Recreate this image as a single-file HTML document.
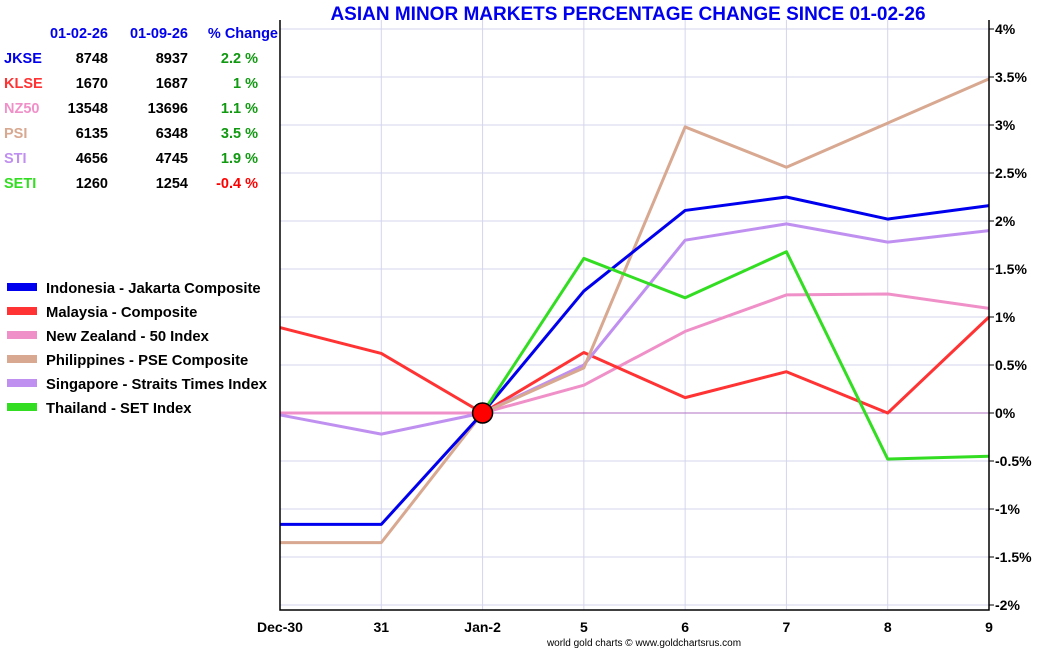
<!DOCTYPE html>
<html><head><meta charset="utf-8"><style>
body{margin:0;background:#fff;font-family:"Liberation Sans",sans-serif;}
svg text{font-family:"Liberation Sans",sans-serif;font-weight:bold;}
</style></head><body>
<svg id="c" width="1050" height="650" xmlns="http://www.w3.org/2000/svg">
<text x="628" y="20" text-anchor="middle" font-size="19" fill="#0000ee">ASIAN MINOR MARKETS PERCENTAGE CHANGE SINCE 01-02-26</text>
<g id="grid"></g>
<g id="series"></g>
<g id="axes"></g>
<g id="table"></g>
<g id="legend"></g>
<text x="644" y="646" text-anchor="middle" font-size="10" style="font-weight:normal" fill="#000">world gold charts © www.goldchartsrus.com</text>
</svg>
<script>
const categories=["Dec-30","31","Jan-2","5","6","7","8","9"];
const yTicks=[-2,-1.5,-1,-0.5,0,0.5,1,1.5,2,2.5,3,3.5,4];
const seriesNames=["Indonesia - Jakarta Composite","Malaysia - Composite","New Zealand - 50 Index","Philippines - PSE Composite","Singapore - Straits Times Index","Thailand - SET Index"];
const seriesColors=["#0000ee","#ff3333","#f090c8","#d8a890","#c090f0","#33dd22"];
const jkse=[-1.16,-1.16,0,1.27,2.11,2.25,2.02,2.16];
const klse=[0.89,0.62,0,0.63,0.16,0.43,0,1.0];
const nz50=[0,0,0,0.29,0.85,1.23,1.24,1.09];
const psi=[-1.35,-1.35,0,0.47,2.98,2.56,3.02,3.48];
const sti=[-0.02,-0.22,0,0.5,1.8,1.97,1.78,1.9];
const seti=[null,null,0,1.61,1.2,1.68,-0.48,-0.45];
const tickers=["JKSE","KLSE","NZ50","PSI","STI","SETI"];
const startVals=[8748,1670,13548,6135,4656,1260];
const endVals=[8937,1687,13696,6348,4745,1254];
const pctChange=[2.2,1,1.1,3.5,1.9,-0.4];
const tickerColors=["#0000ee","#ff3333","#f090c8","#d8a890","#c090f0","#33dd22"];
const NS="http://www.w3.org/2000/svg";
const X0=280,X1=989,YT=20,YB=610;
const xs=i=>X0+i*(X1-X0)/(categories.length-1);
const ys=v=>413-v*96;
function mk(t,a,p){const e=document.createElementNS(NS,t);for(const k in a)e.setAttribute(k,a[k]);p.appendChild(e);return e;}
const grid=document.getElementById('grid'),ser=document.getElementById('series'),ax=document.getElementById('axes');
yTicks.forEach(v=>{
 const l=mk('line',{x1:X0,x2:X1,y1:ys(v),y2:ys(v),stroke:'#d4d4ee','stroke-width':1},grid);
 
 mk('line',{x1:X1,x2:X1+5,y1:ys(v),y2:ys(v),stroke:'#000'},ax);
 const t=mk('text',{x:X1+6,y:ys(v)+5,'font-size':14,fill:'#000'},ax);t.textContent=v+'%';
 
});
categories.forEach((c,i)=>{
 const l=mk('line',{x1:xs(i),x2:xs(i),y1:YT,y2:YB,stroke:'#d4d4ee'},grid);
 
 const t=mk('text',{x:xs(i),y:632,'text-anchor':'middle','font-size':14,fill:'#000'},ax);t.textContent=c;
 
});
const zl=mk('line',{x1:X0,x2:X1,y1:ys(0),y2:ys(0),stroke:'#b070c0','stroke-width':1},grid);

[nz50,klse,sti,psi,jkse,seti].forEach(d=>{
 const idx=[jkse,klse,nz50,psi,sti,seti].indexOf(d);
 const pts=[];d.forEach((v,i)=>{if(v!==null)pts.push(xs(i)+','+ys(v));});
 const p=mk('polyline',{points:pts.join(' '),fill:'none',stroke:seriesColors[idx],'stroke-width':3,'stroke-linejoin':'round'},ser);
 
});
const dot=mk('circle',{cx:xs(2),cy:ys(0),r:10,fill:'#ff0000',stroke:'#000','stroke-width':1.5},ser);

const fr=mk('path',{d:`M${X0},${YT}V${YB}H${X1}V${YT}`,fill:'none',stroke:'#000','stroke-width':1.5},ax);

const tb=document.getElementById('table');
[["01-02-26",108],["01-09-26",188],["% Change",278]].forEach(h=>{
 const t=mk('text',{x:h[1],y:38,'text-anchor':'end','font-size':14.5,fill:'#0000ee'},tb);t.textContent=h[0];
 
});
tickers.forEach((tk,i)=>{
 const y=63+i*25;
 const a=mk('text',{x:4,y:y,'font-size':14.5,fill:tickerColors[i]},tb);a.textContent=tk;
 
 const b=mk('text',{x:108,y:y,'text-anchor':'end','font-size':14.5,fill:'#000'},tb);b.textContent=startVals[i];
 
 const c=mk('text',{x:188,y:y,'text-anchor':'end','font-size':14.5,fill:'#000'},tb);c.textContent=endVals[i];
 
 const d=mk('text',{x:258,y:y,'text-anchor':'end','font-size':14.5,fill:pctChange[i]<0?'#ff0000':'#119911'},tb);d.textContent=pctChange[i]+' %';
 
});
const lg=document.getElementById('legend');
seriesNames.forEach((n,i)=>{
 const y=288+i*24;
 const r=mk('rect',{x:7,y:y-5,width:30,height:8,fill:seriesColors[i]},lg);
 
 const t=mk('text',{x:46,y:y+5,'font-size':14.8,fill:'#000'},lg);t.textContent=n;
 
});
</script>
</body></html>
